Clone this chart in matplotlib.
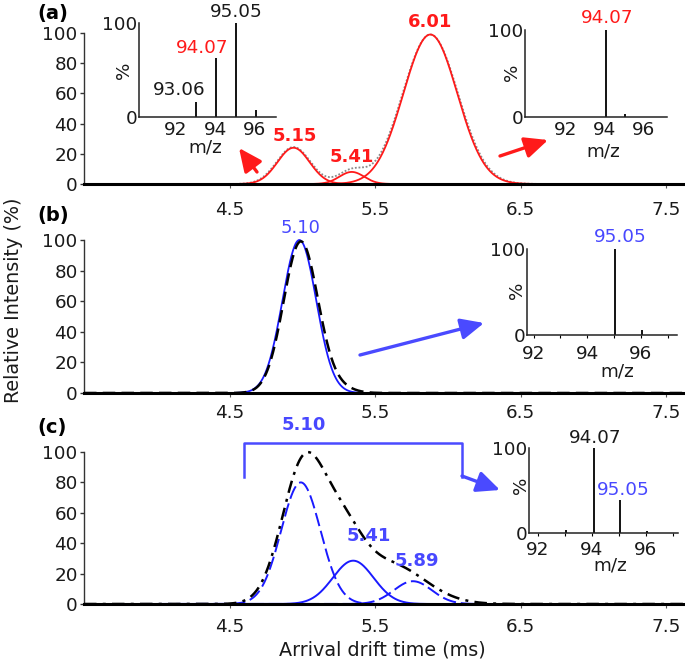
import numpy as np
import matplotlib
matplotlib.use('Agg')
import matplotlib.pyplot as plt
from matplotlib.patches import FancyArrowPatch
from matplotlib.lines import Line2D

plt.rcParams['font.family'] = ['DejaVu Sans']

# ---------------- data ----------------
x_ticks = [4.5, 5.5, 6.5, 7.5]
x_ticklabels = ['4.5', '5.5', '6.5', '7.5']
y_ticks = [0, 20, 40, 60, 80, 100]

# panel (a): fitted Gaussian peaks (centre, height, width) and envelope
a_centers = [4.94, 5.34, 5.88]
a_heights = [24, 8, 99]
a_sigmas = [0.11, 0.085, 0.185]
a_env_heights = [24.5, 8.5, 99]
a_env_sigmas = [0.115, 0.09, 0.19]
a_labels = ['5.15', '5.41', '6.01']
a_label_x = [4.95, 5.34, 5.88]
a_label_y = [32, 18, 107]

# panel (b)
b_centers = [4.98]
b_heights = [100]
b_sigmas = [0.116]
b_env_centers = [4.99, 5.25]
b_env_heights = [99, 3]
b_env_sigmas = [0.118, 0.10]
b_labels = ['5.10']
b_label_x = [4.99]
b_label_y = [108]

# panel (c)
c_centers = [4.99, 5.35, 5.76]
c_heights = [80, 28.5, 15]
c_sigmas = [0.135, 0.14, 0.13]
c_styles = ['dashed', 'solid', 'dashed']
c_env_centers = [5.01, 5.28, 5.60]
c_env_heights = [91.5, 37, 26]
c_env_sigmas = [0.15, 0.14, 0.24]
c_labels = ['5.10', '5.41', '5.89']
c_label_x = [5.01, 5.46, 5.79]
c_label_y = [118, 45, 28]

# inset mass spectra
ins_a1_mz = [93.06, 94.07, 95.05, 96.05]
ins_a1_int = [16, 63, 100, 7]
ins_a2_mz = [94.07, 95.05]
ins_a2_int = [100, 4]
ins_b_mz = [95.05, 96.05]
ins_b_int = [100, 6]
ins_c_mz = [93.06, 94.07, 95.05, 96.05]
ins_c_int = [3, 100, 39, 2]
ins_xticks = [92, 94, 96]
ins_minor = [93, 95, 97]

RED = '#ff1a1a'
BLUE_L = '#1a1aff'
BLUE_T = '#4848ff'
TXT = '#1a1a1a'
FS = 13.2

W, H = 685, 663
fig = plt.figure(figsize=(W / 100, H / 100), dpi=100)


def fx(x):
    return x / W


def fy(y):
    return 1 - y / H


def axes_px(x0, x1, y0, y100):
    return fig.add_axes([fx(x0), fy(y0), (x1 - x0) / W, (y0 - y100) / H])


def gauss(t, c, h, s):
    return h * np.exp(-0.5 * ((t - c) / s) ** 2)


t = np.linspace(3.5, 7.63, 1200)


def style_main(ax, pad):
    ax.set_xlim(3.5, 7.63)
    ax.set_ylim(0, 100)
    ax.patch.set_alpha(0)
    for s in ['top', 'right']:
        ax.spines[s].set_visible(False)
    ax.spines['bottom'].set_linewidth(2.2)
    ax.spines['bottom'].set_zorder(5)
    ax.spines['left'].set_linewidth(1.0)
    ax.spines['left'].set_color('#333333')
    ax.set_xticks(x_ticks)
    ax.set_xticklabels(x_ticklabels)
    ax.set_yticks(y_ticks)
    ax.tick_params(axis='x', length=3, width=0.8, pad=pad, labelsize=FS,
                   labelcolor=TXT, color='#555555')
    ax.tick_params(axis='y', length=3, width=1.0, pad=1.5, labelsize=FS,
                   labelcolor=TXT, color='#333333')


def style_inset(ax, xlim, pad, minor):
    ax.set_xlim(*xlim)
    ax.set_ylim(0, 100)
    ax.patch.set_alpha(0)
    for s in ['top', 'right']:
        ax.spines[s].set_visible(False)
    for s in ['left', 'bottom']:
        ax.spines[s].set_linewidth(1.1)
        ax.spines[s].set_color('#222222')
    ax.set_yticks([0, 100])
    ax.set_xticks(ins_xticks)
    ax.tick_params(axis='y', length=0, pad=1, labelsize=FS, labelcolor=TXT)
    if minor:
        ax.set_xticks(ins_minor, minor=True)
        ax.tick_params(axis='x', which='both', length=2.5, width=0.8,
                       pad=pad, labelsize=FS, labelcolor=TXT)
    else:
        ax.tick_params(axis='x', length=0, pad=pad, labelsize=FS, labelcolor=TXT)


# ---------------- panel (a) ----------------
axa = axes_px(84, 685, 184, 33)
style_main(axa, 9)
env = sum(gauss(t, c, h, s) for c, h, s in zip(a_centers, a_env_heights, a_env_sigmas))
axa.plot(t, env, color='#8a8a8a', lw=1.3, ls=(0, (1, 1)), clip_on=False, zorder=2)
for c, h, s in zip(a_centers, a_heights, a_sigmas):
    axa.plot(t, gauss(t, c, h, s), color=RED, lw=1.3, clip_on=False, zorder=3)
for lab, lx, ly in zip(a_labels, a_label_x, a_label_y):
    axa.text(lx, ly, lab, color=RED, fontsize=13, fontweight='bold',
             ha='center', va='center')

# ---------------- panel (b) ----------------
axb = axes_px(84, 685, 393, 240)
style_main(axb, 5)
for c, h, s in zip(b_centers, b_heights, b_sigmas):
    axb.plot(t, gauss(t, c, h, s), color=BLUE_L, lw=1.3, clip_on=False, zorder=2)
envb = sum(gauss(t, c, h, s) for c, h, s in zip(b_env_centers, b_env_heights, b_env_sigmas))
axb.plot(t, envb, color='black', lw=1.8, ls=(0, (5, 2.5)), clip_on=False, zorder=3)
for lab, lx, ly in zip(b_labels, b_label_x, b_label_y):
    axb.text(lx, ly, lab, color=BLUE_T, fontsize=13, ha='center', va='center')

# ---------------- panel (c) ----------------
axc = axes_px(84, 685, 604, 452)
style_main(axc, 7)
envc = sum(gauss(t, c, h, s) for c, h, s in zip(c_env_centers, c_env_heights, c_env_sigmas))
axc.plot(t, envc, color='black', lw=1.8, ls=(0, (5, 2.5, 1.2, 2.5)), clip_on=False, zorder=3)
for c, h, s, st in zip(c_centers, c_heights, c_sigmas, c_styles):
    ls = (0, (7, 2.5)) if st == 'dashed' else '-'
    axc.plot(t, gauss(t, c, h, s), color=BLUE_L, lw=1.4, ls=ls, clip_on=False, zorder=2)
for lab, lx, ly in zip(c_labels, c_label_x, c_label_y):
    axc.text(lx, ly, lab, color=BLUE_T, fontsize=13, fontweight='bold',
             ha='center', va='center')

fig.text(fx(382), fy(650), 'Arrival drift time (ms)', fontsize=13.8, color=TXT,
         ha='center', va='center')
fig.text(fx(14), fy(300), 'Relative Intensity (%)', fontsize=13.8, color=TXT,
         ha='center', va='center', rotation=90)

for lab, y in zip(['(a)', '(b)', '(c)'], [14, 215, 428]):
    fig.text(fx(37), fy(y), lab, fontsize=14, fontweight='bold', color='black',
             ha='left', va='center')

# ---------------- insets ----------------
def inset(x0, x1, y0, y100, xlim, mz, inten, pad, minor):
    ax = axes_px(x0, x1, y0, y100)
    style_inset(ax, xlim, pad, minor)
    ax.vlines(mz, 0, inten, color='black', lw=1.3)
    return ax

ia1 = inset(139, 276, 117, 23, (90.18, 97.06), ins_a1_mz, ins_a1_int, 3, False)
ia2 = inset(525, 667, 117, 30, (89.95, 97.2), ins_a2_mz, ins_a2_int, 3, False)
ib = inset(527, 677, 335, 249, (91.75, 97.35), ins_b_mz, ins_b_int, 5, True)
ic = inset(529, 678, 533, 448, (91.68, 97.2), ins_c_mz, ins_c_int, 3, True)

# inset axis titles
for (px, py) in [(124, 70), (512, 72), (517, 290), (521, 485)]:
    fig.text(fx(px), fy(py), '%', fontsize=FS, color=TXT, rotation=90,
             ha='center', va='center')
for (px, py) in [(205, 147), (603, 152), (617, 372), (610, 566)]:
    fig.text(fx(px), fy(py), 'm/z', fontsize=FS, color=TXT, ha='center', va='center')

# inset peak labels
fig.text(fx(236), fy(12), '95.05', fontsize=FS, color=TXT, ha='center', va='center')
fig.text(fx(202), fy(48), '94.07', fontsize=FS, color=RED, ha='center', va='center')
fig.text(fx(179), fy(90), '93.06', fontsize=FS, color=TXT, ha='center', va='center')
fig.text(fx(607), fy(18), '94.07', fontsize=FS, color=RED, ha='center', va='center')
fig.text(fx(620), fy(237), '95.05', fontsize=FS, color=BLUE_T, ha='center', va='center')
fig.text(fx(595), fy(438), '94.07', fontsize=FS, color=TXT, ha='center', va='center')
fig.text(fx(623), fy(490), '95.05', fontsize=FS, color=BLUE_T, ha='center', va='center')

# ---------------- arrows ----------------
def arrow(p0, p1, color):
    a = FancyArrowPatch((fx(p0[0]), fy(p0[1])), (fx(p1[0]), fy(p1[1])),
                        transform=fig.transFigure,
                        arrowstyle='-|>,head_length=0.7,head_width=0.32',
                        mutation_scale=20, lw=2.4, color=color,
                        shrinkA=0, shrinkB=0)
    fig.add_artist(a)

arrow((257, 172), (239, 148), RED)
arrow((500, 156), (548, 140), RED)
arrow((360, 355), (484, 323), '#4a4aff')

bx = [244, 244, 462, 462]
by = [477, 443, 443, 477]
fig.add_artist(Line2D([fx(v) for v in bx], [fy(v) for v in by],
                      transform=fig.transFigure, color='#4a4aff', lw=1.8))
arrow((462, 476), (500, 490), '#4a4aff')

fig.savefig('out.png', dpi=100)
